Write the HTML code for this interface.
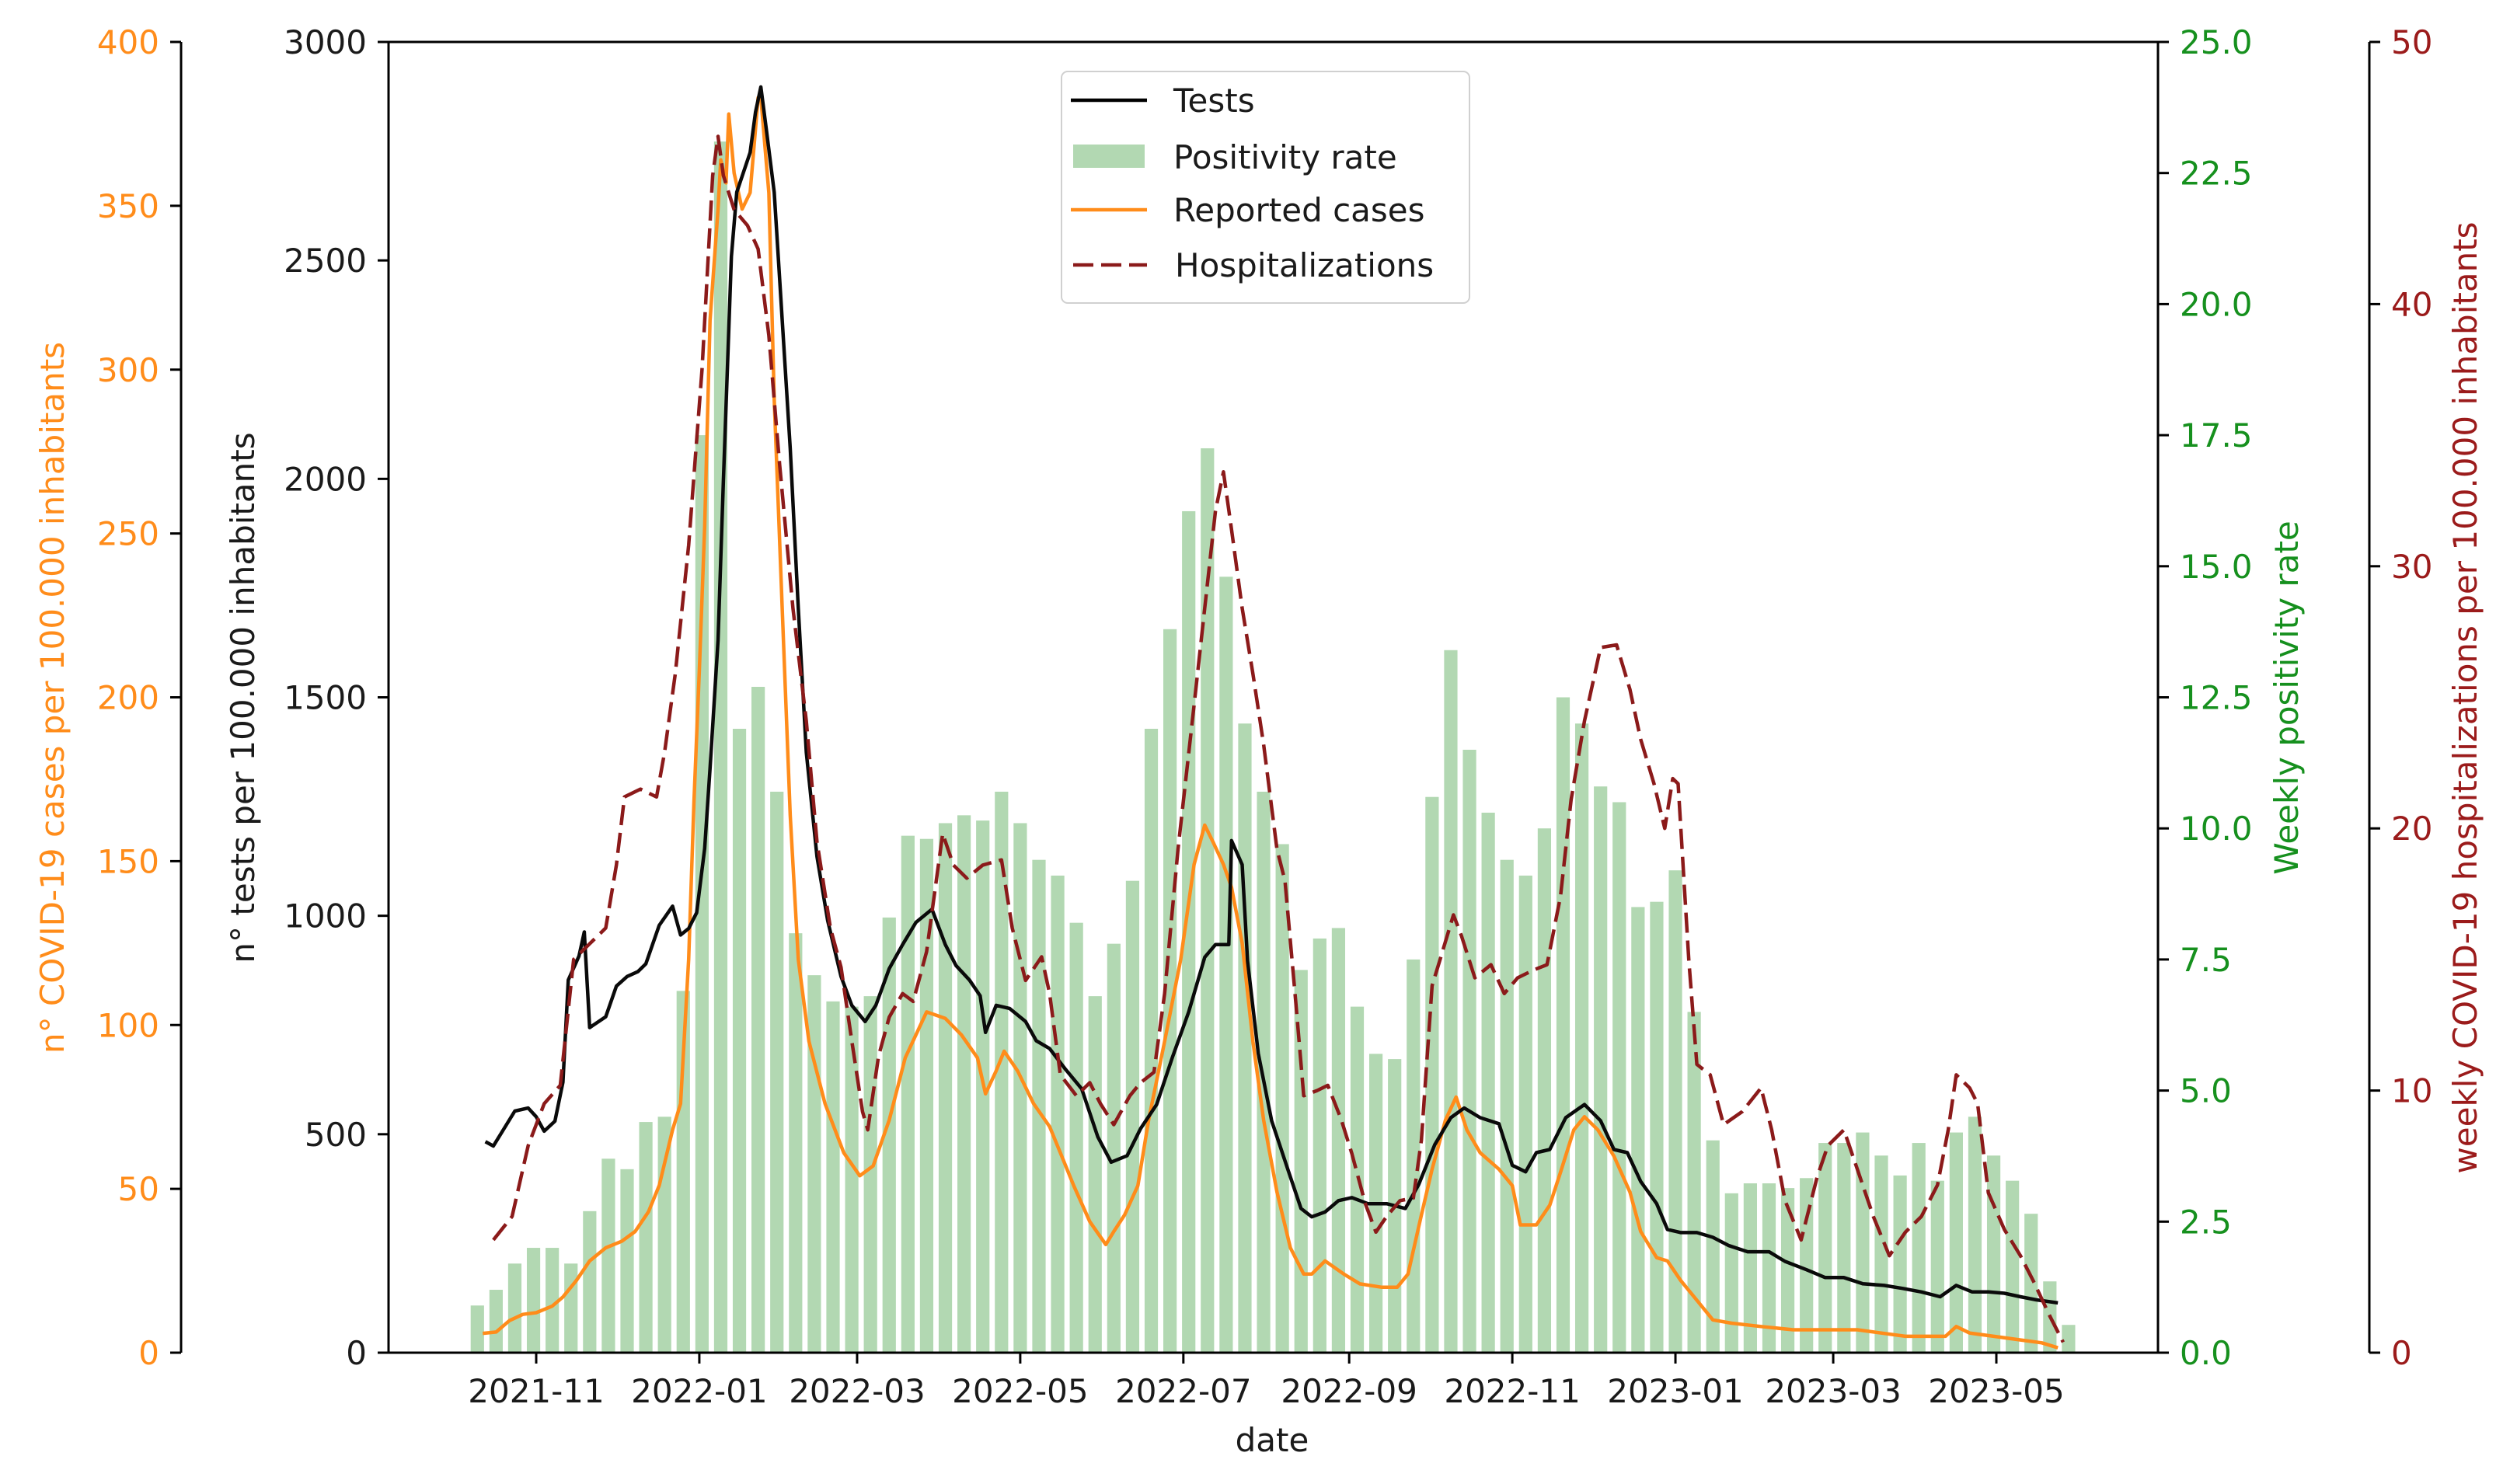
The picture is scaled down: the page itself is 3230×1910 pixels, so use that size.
<!DOCTYPE html>
<html><head><meta charset="utf-8">
<style>
html,body{margin:0;padding:0;background:#fff;}
svg{display:block;font-family:"DejaVu Sans","Liberation Sans",sans-serif;}
</style></head>
<body>
<svg id="chart" width="3230" height="1910" viewBox="0 0 3230 1910" xmlns="http://www.w3.org/2000/svg">
<rect x="0" y="0" width="3230" height="1910" fill="#fff"/>
<g id="bars"></g>
<g id="lines"></g>
<g id="axes"></g>
<g id="legend">
  <rect x="1366" y="92" width="525" height="298" rx="8" fill="#fff" fill-opacity="0.85" stroke="#d0d0d0" stroke-width="2"/>
  <line x1="1378" y1="129" x2="1476" y2="129" stroke="#000" stroke-width="4.5"/>
  <text x="1510" y="144" font-size="42" fill="#1a1a1a">Tests</text>
  <rect x="1381" y="186" width="92" height="30" fill="#b2d8b2"/>
  <text x="1510" y="217" font-size="42" fill="#1a1a1a">Positivity rate</text>
  <line x1="1378" y1="270" x2="1476" y2="270" stroke="#ff8c1a" stroke-width="4.5"/>
  <text x="1510" y="285" font-size="42" fill="#1a1a1a">Reported cases</text>
  <line x1="1381" y1="341" x2="1476" y2="341" stroke="#8b1a1a" stroke-width="4.5" stroke-dasharray="26,10"/>
  <text x="1512" y="356" font-size="42" fill="#1a1a1a">Hospitalizations</text>
</g>
</svg>
<script>
// ---- data (day offsets from 2021-11-01) ----
const barDays = [-22,-15,-8,-1,6,13,20,27,34,41,48,55,62,69,76,83,90,97,104,111,118,125,132,139,146,153,160,167,174,181,188,195,202,209,216,223,230,237,244,251,258,265,272,279,286,293,300,307,314,321,328,335,342,349,356,363,370,377,384,391,398,405,412,419,426,433,440,447,454,461,468,475,482,489,496,503,510,517,524,531,538,545,552,559,566,573];
const positivity = [0.9,1.2,1.7,2.0,2.0,1.7,2.7,3.7,3.5,4.4,4.5,6.9,17.5,23.1,11.9,12.7,10.7,8.0,7.2,6.7,6.6,6.8,8.3,9.86,9.8,10.1,10.25,10.15,10.7,10.1,9.4,9.1,8.2,6.8,7.8,9.0,11.9,13.8,16.05,17.25,14.8,12.0,10.7,9.7,7.3,7.9,8.1,6.6,5.7,5.6,7.5,10.6,13.4,11.5,10.3,9.4,9.1,10.0,12.5,12.0,10.8,10.5,8.5,8.6,9.2,6.5,4.05,3.04,3.23,3.23,3.14,3.33,4.0,4.0,4.2,3.76,3.38,4.0,3.28,4.2,4.5,3.76,3.28,2.65,1.36,0.53];

const testDays = [-19,-16,-12,-8,-3,0,3,7,10,12,16,18,20,26,30,34,38,41,46,51,54,57,60,63,65,68,70,73,75,80,82,84,86,89,92,95,98,101,105,109,114,118,123,127,132,137,142,148,153,157,162,166,168,172,177,183,187,192,198,204,210,215,221,226,232,238,244,250,254,259,260,264,266,270,275,281,286,290,295,300,305,311,318,325,330,336,342,347,353,360,365,370,374,379,385,392,398,403,408,413,419,423,428,434,440,446,453,461,467,475,482,489,496,504,511,518,525,531,537,543,549,555,561,569];
const tests = [483,473,513,553,560,540,507,530,619,853,908,963,744,769,839,861,872,890,978,1022,956,971,1007,1154,1337,1630,1996,2509,2656,2747,2839,2897,2802,2656,2363,2070,1703,1374,1136,989,861,795,758,795,879,934,985,1015,934,886,853,817,733,795,788,758,714,696,648,604,494,436,451,513,568,678,780,905,934,934,1172,1117,897,685,531,421,330,311,322,348,355,341,341,330,385,476,538,560,538,524,429,414,458,465,538,568,531,465,458,392,341,282,275,275,264,245,231,231,209,190,172,172,158,154,147,139,128,154,139,139,136,128,121,114];

const caseDays = [-20,-15,-10,-5,0,6,10,15,20,26,32,37,42,46,51,54,57,59,61,63,65,68,69,71,72,74,77,80,83,84,87,89,92,95,98,102,108,115,121,126,132,138,146,153,159,165,168,172,175,180,186,192,196,201,207,213,216,220,225,229,235,241,246,250,253,257,260,264,268,272,277,282,287,290,295,302,308,316,322,326,331,335,340,344,348,353,360,365,368,374,379,383,388,392,397,403,409,413,419,423,428,434,440,447,458,470,482,494,503,512,521,527,531,536,545,554,563,569];
const cases = [5.9,6.3,9.8,11.7,12.2,14.2,17,22,28,32,34,37,43,51,68,76,120,168,208,252,315,349,364,357,378,360,349,354,383,383,354,291,227,164,120,95,76,61,54,57,71,90,104,102,97,90,79,86,92,86,76,69,61,51,40,33,37,42,51,71,95,120,149,161,156,149,142,125,95,71,49,32,24,24,28,24,21,20,20,24,42,56,71,78,68,61,56,51,39,39,45,55,68,72,68,60,49,37,29,28,22,16,10,9,8,7,7,7,6,5,5,5,8,6,5,4,3,1.5];

const hospDays = [-16,-9,-3,3,9,14,20,26,30,33,39,45,48,52,57,62,66,68,70,74,79,83,87,91,96,101,105,110,114,118,122,124,128,132,137,141,146,152,156,161,167,174,178,183,189,192,196,202,207,211,216,222,226,231,235,240,246,250,254,257,260,264,268,272,277,280,284,287,292,296,301,305,310,314,318,323,328,331,335,338,343,346,351,357,362,367,373,378,383,387,392,398,404,409,413,418,422,425,427,431,434,439,444,451,458,462,467,473,479,483,489,494,500,506,512,518,524,528,531,536,539,543,549,555,560,566,571];
const hosp = [4.3,5.2,7.9,9.5,10.2,15,15.6,16.2,18.6,21.2,21.5,21.2,22.9,25.9,30.8,37.5,44.9,46.4,44.9,43.6,43,42.1,38.8,33.9,28.4,24.1,19.5,16.2,14.7,11.9,9.2,8.5,11.3,12.8,13.7,13.4,15.3,19.8,18.6,18.1,18.6,18.8,16.2,14.2,15.1,13.7,10.6,9.8,10.3,9.5,8.7,9.8,10.3,10.7,13.7,19.2,24.7,28.4,32.1,33.6,31.4,28.4,25.9,23.2,19.2,18,13.4,9.8,10,10.2,8.9,7.6,5.7,4.6,5.2,5.8,5.9,8.1,14,15,16.7,15.9,14.3,14.8,13.7,14.3,14.6,14.8,17.4,21.1,24.1,26.9,27,25.3,23.4,21.7,20,21.9,21.7,15,11,10.6,8.7,9.2,10.1,8.5,5.8,4.3,6.7,7.9,8.5,7,5.2,3.7,4.6,5.2,6.4,8.5,10.6,10.1,9.5,6.1,4.7,3.7,2.7,1.4,0.4];

const xTickDays = [0,61,120,181,242,304,365,426,485,546];
const xTickLabels = ["2021-11","2022-01","2022-03","2022-05","2022-07","2022-09","2022-11","2023-01","2023-03","2023-05"];
const testTicks = [0,500,1000,1500,2000,2500,3000];
const caseTicks = [0,50,100,150,200,250,300,350,400];
const posTicks = [0,2.5,5,7.5,10,12.5,15,17.5,20,22.5,25];
const hospTicks = [0,10,20,30,40,50];

// ---- scales ----
const L=500,R=2777,T=54,B=1741;
const x = d => 690 + d*3.4414;
const yTests = v => B - v/3000*(B-T);
const yCases = v => B - v/400*(B-T);
const yPos = v => B - v/25*(B-T);
const yHosp = v => B - v/50*(B-T);
const NS="http://www.w3.org/2000/svg";
function mk(tag, attrs, parent){const e=document.createElementNS(NS,tag);for(const k in attrs)e.setAttribute(k,attrs[k]);parent.appendChild(e);return e;}

const gb=document.getElementById('bars');
barDays.forEach((d,i)=>{
  const y=yPos(positivity[i]);
  const r=mk('rect',{x:x(d)-8.6,y:y,width:17.2,height:B-y,fill:'#b2d8b2'},gb);
  
  
});

const gl=document.getElementById('lines');
function line(days,vals,ys,stroke,dash,name){
  const pts=days.map((d,i)=>x(d).toFixed(1)+','+ys(vals[i]).toFixed(1)).join(' ');
  const p=mk('polyline',{points:pts,fill:'none',stroke:stroke,'stroke-width':4.5,'stroke-linejoin':'round'},gl);
  if(dash)p.setAttribute('stroke-dasharray',dash);
  
  
}
line(caseDays,cases,yCases,'#ff8c1a',null,'cases-line');
line(testDays,tests,yTests,'#0a0a0a',null,'tests-line');
line(hospDays,hosp,yHosp,'#8b1a1a','26,10','hospitalizations-line');

const ga=document.getElementById('axes');
const frame=mk('rect',{x:L,y:T,width:R-L,height:B-T,fill:'none',stroke:'#000','stroke-width':3},ga);


// x axis
xTickDays.forEach((d,i)=>{
  mk('line',{x1:x(d),y1:B,x2:x(d),y2:B+14,stroke:'#000','stroke-width':3},ga);
  const t=mk('text',{x:x(d),y:B+64,'font-size':42,'text-anchor':'middle',fill:'#1a1a1a'},ga);
  t.textContent=xTickLabels[i];
  
  
});
function yaxis(ticks,scale,spineX,side,color,fmt,name){
  if(spineX!==L&&spineX!==R){mk('line',{x1:spineX,y1:T,x2:spineX,y2:B,stroke:'#000','stroke-width':3},ga);}
  ticks.forEach(v=>{
    const y=scale(v);
    const tx= side<0? spineX-14 : spineX+14;
    mk('line',{x1:spineX,y1:y,x2:tx,y2:y,stroke:'#000','stroke-width':3},ga);
    const t=mk('text',{x: side<0? spineX-28 : spineX+28, y:y+15,'font-size':42,'text-anchor': side<0?'end':'start',fill:color},ga);
    t.textContent=fmt(v);
    
    
  });
}
yaxis(caseTicks,yCases,233,-1,'#ff8c1a',v=>String(v),'cases-tick-label');
yaxis(testTicks,yTests,L,-1,'#1a1a1a',v=>String(v),'tests-tick-label');
yaxis(posTicks,yPos,R,1,'#16901e',v=>v.toFixed(1),'positivity-tick-label');
yaxis(hospTicks,yHosp,3049,1,'#9b1b1b',v=>String(v),'hosp-tick-label');
function label(txt,cx,cy,rot,color,name){
  const t=mk('text',{x:cx,y:cy,'font-size':42,'text-anchor':'middle',fill:color,transform:rot?`rotate(-90 ${cx} ${cy})`:''},ga);
  t.textContent=txt;
  
  
}
label('date',1637,1868,false,'#1a1a1a','x-axis-title');
label('n° COVID-19 cases per 100.000 inhabitants',82,898,true,'#ff8c1a','cases-axis-title');
label('n° tests per 100.000 inhabitants',327,898,true,'#1a1a1a','tests-axis-title');
label('Weekly positivity rate',2957,898,true,'#16901e','positivity-axis-title');
label('weekly COVID-19 hospitalizations per 100.000 inhabitants',3187,898,true,'#9b1b1b','hosp-axis-title');
</script>
</body></html>
